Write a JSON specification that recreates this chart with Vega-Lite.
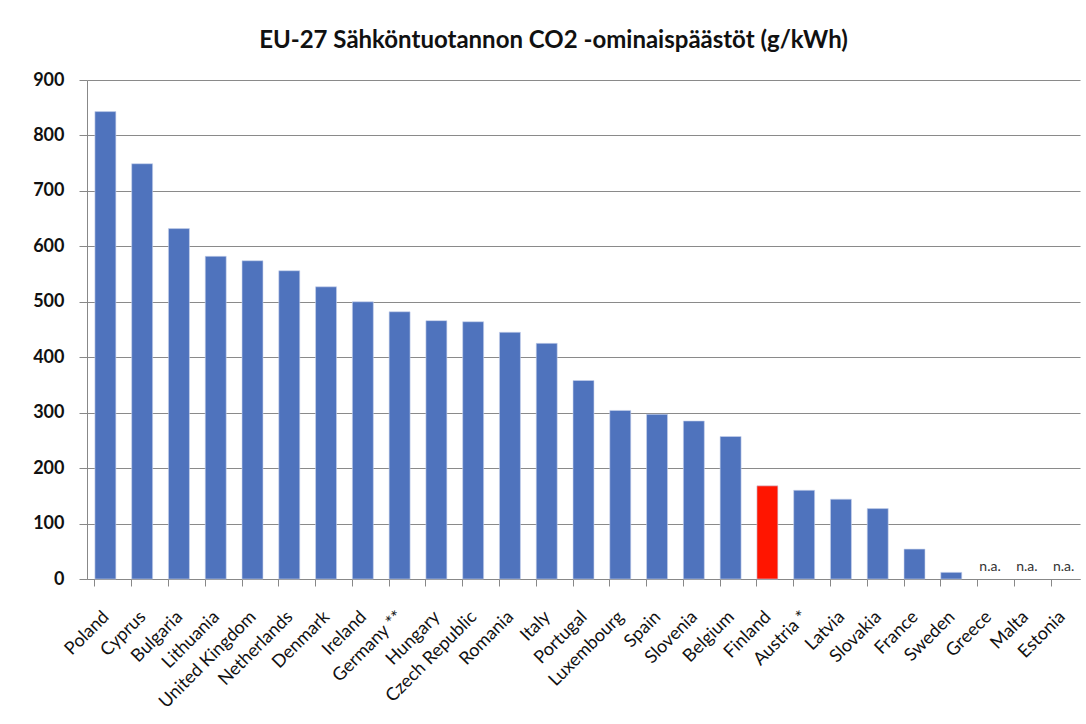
{
  "$schema": "https://vega.github.io/schema/vega-lite/v6.json",
  "autosize": {"type": "none"},
  "width": 993,
  "height": 499,
  "padding": {"left": 87, "top": 80, "right": 6, "bottom": 145},
  "background": "white",
  "title": {
    "text": "EU-27 Sähköntuotannon CO2 -ominaispäästöt (g/kWh)",
    "anchor": "middle",
    "frame": "group",
    "dx": -30,
    "offset": 18,
    "font": "Lato",
    "fontSize": 24,
    "fontWeight": "bold",
    "color": "#111"
  },
  "config": {
    "view": {"stroke": null},
    "font": "Lato"
  },
  "data": {
    "values": [
      {"country": "Poland", "value": 843, "group": "other"},
      {"country": "Cyprus", "value": 749, "group": "other"},
      {"country": "Bulgaria", "value": 632, "group": "other"},
      {"country": "Lithuania", "value": 582, "group": "other"},
      {"country": "United Kingdom", "value": 574, "group": "other"},
      {"country": "Netherlands", "value": 556, "group": "other"},
      {"country": "Denmark", "value": 527, "group": "other"},
      {"country": "Ireland", "value": 500, "group": "other"},
      {"country": "Germany **", "value": 482, "group": "other"},
      {"country": "Hungary", "value": 466, "group": "other"},
      {"country": "Czech Republic", "value": 464, "group": "other"},
      {"country": "Romania", "value": 445, "group": "other"},
      {"country": "Italy", "value": 425, "group": "other"},
      {"country": "Portugal", "value": 358, "group": "other"},
      {"country": "Luxembourg", "value": 304, "group": "other"},
      {"country": "Spain", "value": 297, "group": "other"},
      {"country": "Slovenia", "value": 285, "group": "other"},
      {"country": "Belgium", "value": 257, "group": "other"},
      {"country": "Finland", "value": 168, "group": "Finland"},
      {"country": "Austria *", "value": 160, "group": "other"},
      {"country": "Latvia", "value": 144, "group": "other"},
      {"country": "Slovakia", "value": 127, "group": "other"},
      {"country": "France", "value": 54, "group": "other"},
      {"country": "Sweden", "value": 12, "group": "other"},
      {"country": "Greece", "value": null, "group": "other", "note": "n.a."},
      {"country": "Malta", "value": null, "group": "other", "note": "n.a."},
      {"country": "Estonia", "value": null, "group": "other", "note": "n.a."}
    ]
  },
  "encoding": {
    "x": {
      "field": "country",
      "type": "nominal",
      "sort": null,
      "scale": {"paddingInner": 0.43, "paddingOuter": 0.215},
      "axis": {
        "title": null,
        "bandPosition": 0,
        "labelOffset": 1,
        "labelAngle": -45,
        "labelAlign": "right",
        "labelBaseline": "middle",
        "labelPadding": 28,
        "labelFontSize": 18,
        "labelColor": "#111",
        "labelFont": "Lato",
        "tickSize": 7,
        "tickColor": "#888",
        "domainColor": "#888",
        "grid": false
      }
    }
  },
  "layer": [
    {
      "mark": {"type": "bar", "stroke": "#c9d4ec", "strokeWidth": 0.6},
      "encoding": {
        "y": {
          "field": "value",
          "type": "quantitative",
          "scale": {"domain": [0, 900], "nice": false},
          "axis": {
            "title": null,
            "values": [0, 100, 200, 300, 400, 500, 600, 700, 800, 900],
            "labelFontSize": 18,
            "labelFontWeight": "bold",
            "labelColor": "#111",
            "labelPadding": 15,
            "tickSize": 8,
            "tickColor": "#888",
            "domainColor": "#888",
            "gridColor": "#8a8a8a",
            "gridWidth": 1.2
          }
        },
        "color": {
          "field": "group",
          "type": "nominal",
          "scale": {"domain": ["other", "Finland"], "range": ["#4F73BD", "#FF1500"]},
          "legend": null
        }
      }
    },
    {
      "transform": [{"filter": "datum.note != null"}],
      "mark": {"type": "text", "dy": -12, "dx": 2, "fontSize": 14, "color": "#333", "font": "Lato"},
      "encoding": {
        "y": {"datum": 0, "type": "quantitative"},
        "text": {"field": "note"}
      }
    }
  ]
}
